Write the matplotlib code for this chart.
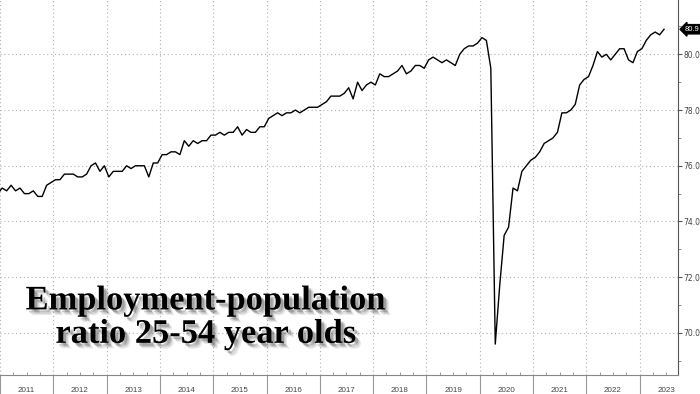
import matplotlib
matplotlib.use("Agg")
import matplotlib.pyplot as plt
import matplotlib.patheffects as pe
import numpy as np

# prime-age (25-54) employment-population ratio, monthly, %
# series starts Dec 2010
start_year, start_month = 2010, 12
dec_2010 = [75.0]
y2011 = [75.2, 75.1, 75.3, 75.1, 75.2, 75.0, 75.0, 75.1, 74.9, 74.9, 75.3, 75.4]
y2012 = [75.5, 75.5, 75.7, 75.7, 75.7, 75.6, 75.6, 75.7, 76.0, 76.1, 75.8, 76.0]
y2013 = [75.6, 75.8, 75.8, 75.8, 76.0, 75.9, 76.0, 76.0, 76.0, 75.6, 76.1, 76.1]
y2014 = [76.4, 76.4, 76.5, 76.5, 76.4, 76.9, 76.7, 76.9, 76.8, 76.9, 76.9, 77.1]
y2015 = [77.1, 77.2, 77.1, 77.2, 77.2, 77.4, 77.1, 77.3, 77.2, 77.2, 77.4, 77.4]
y2016 = [77.7, 77.8, 77.9, 77.8, 77.9, 77.9, 78.0, 77.9, 78.0, 78.1, 78.1, 78.1]
y2017 = [78.2, 78.3, 78.5, 78.5, 78.5, 78.6, 78.8, 78.4, 79.0, 78.7, 78.9, 79.0]
y2018 = [78.9, 79.3, 79.2, 79.2, 79.3, 79.4, 79.6, 79.3, 79.4, 79.6, 79.6, 79.5]
y2019 = [79.8, 79.9, 79.8, 79.7, 79.8, 79.7, 79.6, 80.0, 80.2, 80.3, 80.3, 80.4]
y2020 = [80.6, 80.5, 79.5, 69.6, 71.7, 73.5, 73.8, 75.2, 75.1, 75.8, 76.0, 76.2]
y2021 = [76.3, 76.5, 76.8, 76.9, 77.0, 77.2, 77.9, 77.9, 78.0, 78.2, 78.9, 79.1]
y2022 = [79.2, 79.6, 80.1, 79.9, 80.0, 79.8, 80.0, 80.2, 80.2, 79.8, 79.7, 80.1]
y2023 = [80.2, 80.5, 80.7, 80.8, 80.7, 80.9]

years = list(range(2011, 2024))
y_ticks = [70, 72, 74, 76, 78, 80]
title = "Employment-population\nratio 25-54 year olds"

values = np.array(dec_2010 + y2011 + y2012 + y2013 + y2014 + y2015 + y2016
                  + y2017 + y2018 + y2019 + y2020 + y2021 + y2022 + y2023)
# monthly points plotted mid-month
idx = np.arange(len(values))
t = start_year + (start_month - 1 + idx + 0.5) / 12

fig = plt.figure(figsize=(7, 3.94), dpi=100)
ax = fig.add_axes([0.0, 19 / 394, 678 / 700, 375 / 394])

ax.plot(t, values, color="black", lw=1.0, zorder=3)

ax.set_xlim(2011.0, 2023.72)
ax.set_ylim(68.49, 81.95)

grid_kw = dict(color="#b0b0b0", lw=0.8, linestyle=(0, (1, 2.5)))
for yv in y_ticks:
    ax.axhline(yv, **grid_kw, zorder=1)
for yr in years:
    ax.axvline(yr, **grid_kw, zorder=1)

# spines
for s in ["top", "left"]:
    ax.spines[s].set_visible(False)
ax.spines["right"].set_color("#555555")
ax.spines["bottom"].set_color("#888888")

# y axis on the right
ax.yaxis.tick_right()
ax.set_yticks(y_ticks)
ax.set_yticklabels([f"{v:.1f}" for v in y_ticks])
ax.set_yticks(np.arange(69, 82, 2), minor=True)
ax.tick_params(axis="y", which="major", direction="out", length=3, width=0.8,
               color="#555555", labelsize=5.5, labelcolor="#444444", pad=1)
ax.tick_params(axis="y", which="minor", direction="out", length=2, width=0.6,
               color="#777777")

# x axis: year separators below, quarterly ticks inside
ax.set_xticks(years)
ax.set_xticklabels([])
quarters = [y + q / 4 for y in range(2011, 2024) for q in (1, 2, 3)]
ax.set_xticks([q for q in quarters if q < 2023.72], minor=True)
ax.tick_params(axis="x", which="major", direction="out", length=14, width=0.8,
               color="#999999")
ax.tick_params(axis="x", which="minor", direction="in", length=2.5, width=0.6,
               color="#888888")

for yr in years:
    ax.text(yr + 0.5, -0.041, str(yr), transform=ax.get_xaxis_transform(),
            ha="center", va="center", fontsize=5.8, color="#444444",
            family="Liberation Sans")

# last value tag
ax.annotate(f"{values[-1]:.1f}", xy=(1.0, values[-1]),
            xycoords=ax.get_yaxis_transform(), xytext=(5, 0),
            textcoords="offset points", ha="left", va="center",
            fontsize=5.5, color="white", family="Liberation Sans",
            bbox=dict(boxstyle="larrow,pad=0.15", fc="black", ec="black"),
            annotation_clip=False)

# soft drop shadow built from a few offset layers
shadow = [pe.SimplePatchShadow(offset=(d, -d), shadow_rgbFace="#444444", alpha=a)
          for d, a in [(4, 0.12), (3, 0.2), (2, 0.3)]]
ax.text(0.304, 0.153, title, transform=ax.transAxes, ha="center", va="center",
        multialignment="center", fontsize=24.8, fontweight="bold",
        family="Liberation Serif", color="black", linespacing=1.1,
        path_effects=shadow + [pe.Normal()])

fig.savefig("out.png", dpi=100)
